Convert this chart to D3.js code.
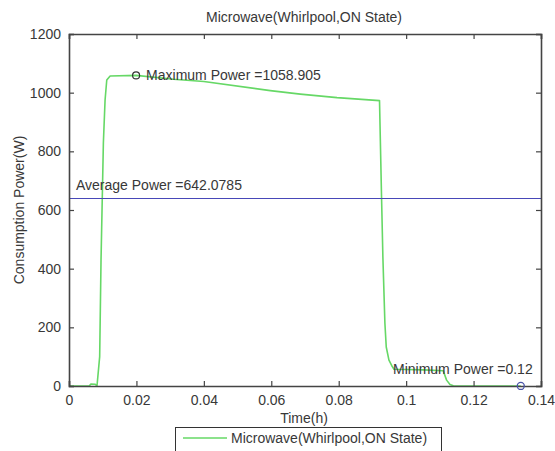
<!DOCTYPE html>
<html><head><meta charset="utf-8">
<script src="https://cdn.jsdelivr.net/npm/d3@7"></script>
<style>body{margin:0;background:#fff;}svg{display:block;font-family:"Liberation Sans",Arial,sans-serif;}</style>
</head><body><svg id="c" width="555" height="451"></svg>
<script>
const title = "Microwave(Whirlpool,ON State)";
const xLabel = "Time(h)";
const yLabel = "Consumption Power(W)";
const seriesName = "Microwave(Whirlpool,ON State)";
const timeH = [0, 0.006, 0.0065, 0.0078, 0.0083, 0.0091, 0.0095, 0.0102, 0.0107, 0.0112, 0.0122, 0.0199, 0.031, 0.040, 0.0597, 0.0686, 0.0795, 0.0921, 0.0927, 0.0931, 0.0937, 0.0941, 0.0949, 0.0957, 0.0964, 0.1000, 0.1050, 0.1110, 0.1120, 0.1130, 0.1140, 0.1340];
const powerW = [0, 0, 7, 6, 0, 100, 430, 830, 975, 1043, 1057, 1058.905, 1046, 1038, 1007, 995, 983, 973, 646, 440, 214, 133, 88, 70, 57, 56, 55, 52, 20, 5, 0.5, 0.12];
const xTicks = [0, 0.02, 0.04, 0.06, 0.08, 0.1, 0.12, 0.14];
const yTicks = [0, 200, 400, 600, 800, 1000, 1200];
const avgPower = 642.0785;
const maxPoint = {t: 0.0199, p: 1058.905, label: "Maximum Power =1058.905"};
const minPoint = {t: 0.1340, p: 0.12, label: "Minimum Power =0.12"};
const avgLabel = "Average Power =642.0785";

const svg = d3.select("#c");
const L = 69, R = 541, T = 34, B = 386;
const x = d3.scaleLinear().domain([0, 0.14]).range([L, R]);
const y = d3.scaleLinear().domain([0, 1200]).range([B, T]);
const axisCol = "#444", txtCol = "#383838", fs = 14;

// data line
const line = d3.line().x((d,i)=>x(timeH[i])).y((d,i)=>y(powerW[i]));
svg.append("path").datum(powerW).attr("d", line).attr("fill","none").attr("stroke","#66d866").attr("stroke-width",1.6).attr("stroke-linejoin","round");

// average line
const ya = Math.round(y(avgPower)) + 0.5;
svg.append("line").attr("x1", x(0)).attr("x2", x(0.14)).attr("y1", ya).attr("y2", ya).attr("stroke","#4848b8").attr("stroke-width",1.1);

// axes
const gb = svg.append("g").attr("transform",`translate(0,${B})`).call(d3.axisBottom(x).tickValues(xTicks).tickSize(-5).tickPadding(9).tickFormat(d=>String(d)));
const gt = svg.append("g").attr("transform",`translate(0,${T})`).call(d3.axisTop(x).tickValues(xTicks).tickSize(-5).tickFormat(""));
const gl = svg.append("g").attr("transform",`translate(${L},0)`).call(d3.axisLeft(y).tickValues(yTicks).tickSize(-5).tickPadding(8).tickFormat(d=>String(d)));
const gr = svg.append("g").attr("transform",`translate(${R},0)`).call(d3.axisRight(y).tickValues(yTicks).tickSize(-5).tickFormat(""));
[gb,gt,gl,gr].forEach(g=>{
  g.select(".domain").attr("stroke",axisCol).attr("stroke-width",1.6);
  g.selectAll(".tick line").attr("stroke",axisCol).attr("stroke-width",1.2);
  g.selectAll(".tick text").attr("fill",txtCol).attr("font-size",fs).attr("font-family","Liberation Sans, Arial, sans-serif");
});
gb.selectAll(".tick text").attr("dy","0.72em");

// markers
svg.append("circle").attr("cx", x(maxPoint.t)).attr("cy", y(maxPoint.p)).attr("r",3.5).attr("fill","none").attr("stroke","#333").attr("stroke-width",1.2);
svg.append("circle").attr("cx", x(minPoint.t)).attr("cy", y(minPoint.p)).attr("r",3.5).attr("fill","none").attr("stroke","#4a55a8").attr("stroke-width",1.3);

// annotations
svg.append("text").attr("x", x(maxPoint.t)+10).attr("y", y(maxPoint.p)+5).text(maxPoint.label).attr("font-size",fs).attr("fill",txtCol);
svg.append("text").attr("x", x(0)+7).attr("y", y(avgPower)-8).text(avgLabel).attr("font-size",fs).attr("fill",txtCol);
svg.append("text").attr("x", 393).attr("y", 374).text(minPoint.label).attr("font-size",fs).attr("fill",txtCol);

// title and labels
svg.append("text").attr("x", 304).attr("y", 22).attr("text-anchor","middle").text(title).attr("font-size",fs).attr("fill",txtCol);
svg.append("text").attr("x", 304).attr("y", 423).attr("text-anchor","middle").text(xLabel).attr("font-size",fs).attr("fill",txtCol);
svg.append("text").attr("transform",`translate(24,${(T+B)/2}) rotate(-90)`).attr("text-anchor","middle").text(yLabel).attr("font-size",fs).attr("fill",txtCol);

// legend
const lg = svg.append("g");
lg.append("rect").attr("x",175.5).attr("y",427.5).attr("width",266).attr("height",30).attr("fill","#fff").attr("stroke","#333").attr("stroke-width",1);
lg.append("line").attr("x1",183).attr("x2",227).attr("y1",438).attr("y2",438).attr("stroke","#66d866").attr("stroke-width",1.6);
lg.append("text").attr("x",231).attr("y",443).text(seriesName).attr("font-size",fs).attr("fill",txtCol);
</script></body></html>
